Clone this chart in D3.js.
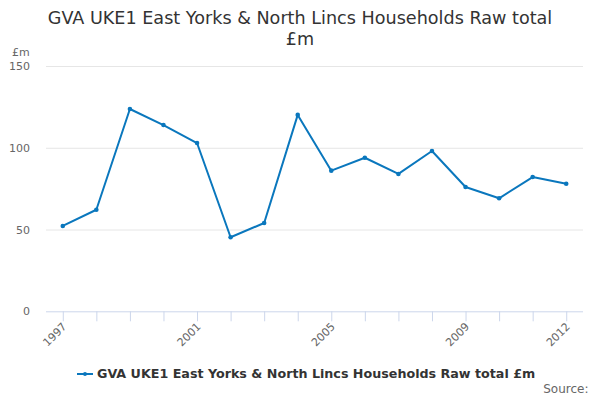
<!DOCTYPE html>
<html><head><meta charset="utf-8">
<script src="https://cdn.jsdelivr.net/npm/d3@7"></script>
<style>body{margin:0;background:#fff}svg{display:block}text{font-family:"DejaVu Sans",sans-serif}</style>
</head><body>
<svg id="c" width="600" height="400"></svg>
<script>
const categories = ["1997","1998","1999","2000","2001","2002","2003","2004","2005","2006","2007","2008","2009","2010","2011","2012"];
const values = [52.2,62.1,123.7,113.9,102.9,45.3,54.0,120.1,86.0,93.9,84.0,98.0,76.0,69.1,82.1,78.0];
const yTicks = [0,50,100,150];
const xLabels = ["1997","2001","2005","2009","2012"];
const seriesName = "GVA UKE1 East Yorks & North Lincs Households Raw total £m";
const title = ["GVA UKE1 East Yorks & North Lincs Households Raw total","£m"];

const svg = d3.select("#c");
const L = 46, R = 583, T = 66, B = 311.3;
const color = "#0a77bd";
const x = d3.scalePoint().domain(categories).range([L, R]).padding(0.5);
const y = d3.scaleLinear().domain([0,150]).range([B, T]);

// title
svg.append("text").attr("x",300).attr("y",24).attr("text-anchor","middle")
  .style("font-size","17.6px").attr("fill","#333").text(title[0]);
svg.append("text").attr("x",300).attr("y",45).attr("text-anchor","middle")
  .style("font-size","17.6px").attr("fill","#333").text(title[1]);

// grid
svg.append("g").selectAll("line").data(yTicks.filter(d=>d>0)).join("line")
  .attr("x1",L).attr("x2",R).attr("y1",d=>y(d)+0.5).attr("y2",d=>y(d)+0.5)
  .attr("stroke","#e6e6e6");
// y labels
svg.append("g").selectAll("text").data(yTicks).join("text")
  .attr("x",30).attr("y",d=>y(d)+4).attr("text-anchor","end")
  .style("font-size","11px").attr("fill","#666").text(d=>d);
svg.append("text").attr("x",12).attr("y",56).style("font-size","11px").attr("fill","#666").text("£m");

// x axis
const xa = d3.axisBottom(x).tickSize(10).tickFormat(d=>xLabels.includes(d)?d:"");
const gx = svg.append("g").attr("transform",`translate(0,${B})`).call(xa);
gx.select(".domain").attr("stroke","#ccd6eb").attr("d",`M${L},0.5H${R}`);
gx.selectAll(".tick line").attr("stroke","#ccd6eb");
gx.selectAll(".tick text").attr("fill","#666").style("font-size","11px")
  .style("font-family","DejaVu Sans, sans-serif")
  .attr("text-anchor","end").attr("dy",null).attr("y",null)
  .attr("transform","translate(4,16) rotate(-45)");

// line
const line = d3.line().x((d,i)=>x(categories[i])).y(d=>y(d));
svg.append("path").datum(values).attr("d",line).attr("fill","none")
  .attr("stroke",color).attr("stroke-width",2).attr("stroke-linejoin","round");
svg.append("g").selectAll("circle").data(values).join("circle")
  .attr("cx",(d,i)=>x(categories[i])).attr("cy",d=>y(d)).attr("r",2.3).attr("fill",color);

// legend
const lg = svg.append("g");
lg.append("line").attr("x1",77).attr("x2",93).attr("y1",374).attr("y2",374).attr("stroke",color).attr("stroke-width",2);
lg.append("circle").attr("cx",85).attr("cy",374).attr("r",2).attr("fill",color);
lg.append("text").attr("x",97).attr("y",378).style("font-size","12.7px").style("font-weight","bold")
  .attr("fill","#333").text(seriesName);

svg.append("text").attr("x",588.5).attr("y",392.5).attr("text-anchor","end")
  .style("font-size","12px").attr("fill","#666").text("Source:");
</script>
</body></html>
